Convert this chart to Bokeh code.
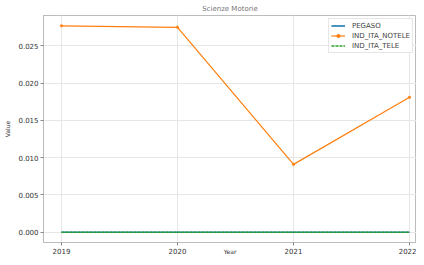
from bokeh.plotting import figure
from bokeh.models import Range1d, FixedTicker, NumeralTickFormatter, Legend, LegendItem
from bokeh.embed import file_html
from bokeh.resources import INLINE

years = [2019, 2020, 2021, 2022]
pegaso = [0.0, 0.0, 0.0, 0.0]
ind_ita_notele = [0.0277, 0.0275, 0.0091, 0.0181]
ind_ita_tele = [0.0, 0.0, 0.0, 0.0]
y_ticks = [0.0, 0.005, 0.010, 0.015, 0.020, 0.025]

FONT = "DejaVu Sans"

ymin = min(pegaso + ind_ita_notele + ind_ita_tele)
ymax = max(pegaso + ind_ita_notele + ind_ita_tele)
pad = (ymax - ymin) * 0.05

p = figure(width=416, height=257, output_backend="svg", toolbar_location=None,
           x_range=Range1d(years[0] - 0.155, years[-1] + 0.06),
           y_range=Range1d(ymin - pad, ymax + pad),
           title="Scienze Motorie",
           min_border_left=43, min_border_right=0, min_border_top=12, min_border_bottom=0)

p.title.text_font = FONT
p.title.text_font_size = "7px"
p.title.text_font_style = "normal"
p.title.text_color = "#777777"
p.title.align = "center"
p.title.offset = 0
p.title.standoff = 5

p.outline_line_color = "#bbbbbb"
for ax in (p.xaxis[0], p.yaxis[0]):
    ax.axis_line_color = "#bbbbbb"
    ax.major_tick_line_color = "#888888"
    ax.minor_tick_line_color = None
    ax.major_tick_in = 0
    ax.major_tick_out = 3
    ax.major_label_text_font = FONT
    ax.major_label_text_font_size = "7px"
    ax.major_label_text_color = "#333333"
    ax.major_label_standoff = 2
    ax.axis_label_text_font = FONT
    ax.axis_label_text_font_size = "6px"
    ax.axis_label_text_font_style = "normal"
    ax.axis_label_text_color = "#333333"
    ax.axis_label_standoff = 4

p.xaxis.ticker = FixedTicker(ticks=years)
p.xaxis.formatter = NumeralTickFormatter(format="0")
p.xaxis.axis_label = "Year"
p.xaxis.axis_label_standoff = -9
p.yaxis.ticker = FixedTicker(ticks=y_ticks)
p.yaxis.formatter = NumeralTickFormatter(format="0.000")
p.yaxis.axis_label = "Value"

p.xgrid.grid_line_color = "#e6e6e6"
p.ygrid.grid_line_color = "#e6e6e6"
p.xgrid.ticker = FixedTicker(ticks=years)
p.ygrid.ticker = FixedTicker(ticks=y_ticks)

r1 = p.line(years, pegaso, line_color="#1f77b4", line_width=1.6)
r2 = p.line(years, ind_ita_notele, line_color="#ff7f0e", line_width=1.2)
r2m = p.scatter(years, ind_ita_notele, size=2.5, fill_color="#ff7f0e", line_color="#ff7f0e", line_width=0.5)
r3 = p.line(years, ind_ita_tele, line_color="#2ca02c", line_width=1.6, line_dash="3 1")

legend = Legend(items=[
    LegendItem(label="PEGASO", renderers=[r1]),
    LegendItem(label="IND_ITA_NOTELE", renderers=[r2, r2m]),
    LegendItem(label="IND_ITA_TELE", renderers=[r3]),
], location="top_right")
legend.label_text_font = FONT
legend.label_text_font_size = "7px"
legend.label_height = 9
legend.glyph_height = 9
legend.glyph_width = 14
legend.spacing = 1
legend.padding = 2
legend.margin = 3
legend.label_standoff = 7
legend.border_line_color = "#cccccc"
legend.background_fill_alpha = 0.9
p.add_layout(legend)

open("out.html", "w").write(file_html(p, INLINE))
